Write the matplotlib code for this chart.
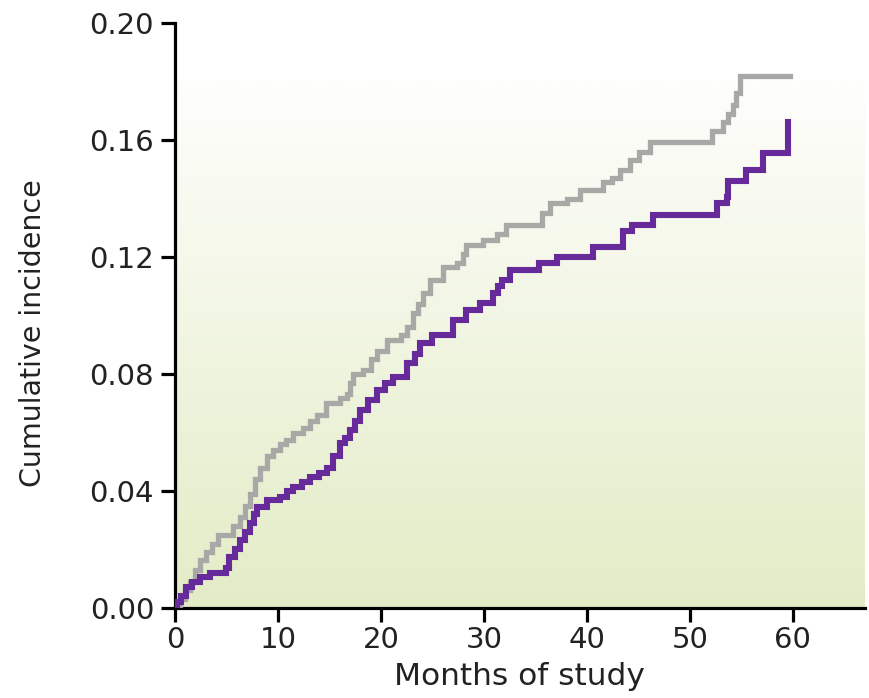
import numpy as np
import matplotlib
matplotlib.use("Agg")
import matplotlib.pyplot as plt
from matplotlib.ticker import FormatStrFormatter

# ---- data ----
gray_t = [0, 0.5, 1.0, 1.5, 2.0, 2.4, 3.0, 3.6, 4.2, 5.6, 6.3, 6.8, 7.3, 7.8, 8.3, 8.9,
          9.5, 10.2, 10.8, 11.5, 12.4, 13.1, 13.8, 14.7, 16.0, 16.7, 17.0, 17.3, 18.3,
          19.0, 19.6, 20.6, 22.0, 22.5, 23.1, 23.6, 24.1, 24.8, 26.0, 27.4, 28.0, 28.3,
          29.9, 31.3, 32.2, 35.7, 36.4, 38.1, 39.3, 41.6, 42.5, 43.2, 44.2, 45.1, 46.1,
          52.2, 53.2, 53.7, 54.2, 54.5, 54.9, 59.7]
gray_v = [0, 0.003, 0.006, 0.009, 0.013, 0.0164, 0.019, 0.022, 0.025, 0.028, 0.031, 0.035,
          0.039, 0.044, 0.048, 0.052, 0.054, 0.056, 0.0574, 0.0598, 0.0615, 0.064, 0.066,
          0.070, 0.0718, 0.073, 0.077, 0.080, 0.0814, 0.085, 0.088, 0.0916, 0.0935, 0.096,
          0.1008, 0.104, 0.1077, 0.112, 0.1166, 0.118, 0.121, 0.124, 0.1258, 0.128, 0.131,
          0.135, 0.1385, 0.140, 0.1429, 0.1456, 0.147, 0.1497, 0.153, 0.156, 0.1593,
          0.163, 0.166, 0.169, 0.172, 0.176, 0.182, 0.182]

purple_t = [0, 0.2, 0.6, 1.1, 1.7, 2.4, 3.4, 5.0, 5.3, 5.8, 6.3, 6.8, 7.3, 7.7, 8.0, 8.9,
            10.2, 10.9, 11.5, 12.3, 13.1, 14.0, 14.8, 15.4, 16.0, 16.5, 17.0, 17.5, 18.0,
            18.8, 19.6, 20.4, 21.2, 22.5, 23.3, 23.8, 25.0, 27.0, 28.3, 29.6, 30.9, 31.4,
            31.8, 32.5, 35.4, 37.1, 40.6, 43.5, 44.4, 46.4, 52.6, 53.6, 53.7, 55.5, 57.1,
            59.5]
purple_v = [0, 0.002, 0.004, 0.007, 0.009, 0.0106, 0.012, 0.0135, 0.0174, 0.020, 0.0232,
            0.026, 0.029, 0.032, 0.0345, 0.037, 0.038, 0.040, 0.0414, 0.043, 0.0448, 0.046,
            0.048, 0.052, 0.0564, 0.058, 0.0608, 0.064, 0.0677, 0.071, 0.0745, 0.077, 0.079,
            0.0837, 0.087, 0.0906, 0.0933, 0.0985, 0.102, 0.1043, 0.1077, 0.110, 0.112,
            0.1156, 0.118, 0.120, 0.1234, 0.129, 0.131, 0.1344, 0.1385, 0.1405, 0.146,
            0.1497, 0.1555, 0.166]

x_ticks = [0, 10, 20, 30, 40, 50, 60]
y_ticks = [0.00, 0.04, 0.08, 0.12, 0.16, 0.20]
x_label = "Months of study"
y_label = "Cumulative incidence"

# ---- figure ----
plt.rcParams['font.family'] = ['DejaVu Sans']
fig = plt.figure(figsize=(8.7, 6.98), dpi=100)
ax = fig.add_axes([0.201, 0.129, 0.793, 0.838])

xmax, ymax = 67.0, 0.20

# gradient background (light green at bottom fading to white)
grad_top = 0.18
n = 256
bottom_c = np.array([227, 236, 198]) / 255.0
top_c = np.array([254, 254, 252]) / 255.0
f = np.linspace(0, 1, n)[:, None]
img = (bottom_c * (1 - f) + top_c * f)[:, None, :]
ax.imshow(img, extent=[0, xmax, 0, grad_top], origin='lower', aspect='auto',
          zorder=0, interpolation='bilinear')
ax.set_xlim(0, xmax)
ax.set_ylim(0, ymax)

ax.step(gray_t, gray_v, where='post', color='#a8a9a6', lw=3.8, zorder=3,
        solid_joinstyle='miter')
ax.step(purple_t, purple_v, where='post', color='#662a9a', lw=4.4, zorder=4,
        solid_joinstyle='miter')

for s in ['top', 'right']:
    ax.spines[s].set_visible(False)
for s in ['left', 'bottom']:
    ax.spines[s].set_linewidth(2.3)
    ax.spines[s].set_color('black')

ax.set_xticks(x_ticks)
ax.set_yticks(y_ticks)
ax.yaxis.set_major_formatter(FormatStrFormatter('%.2f'))
ax.tick_params(axis='both', direction='out', length=10, width=2.3, color='black',
               labelsize=21, labelcolor='#222222')
ax.tick_params(axis='y', pad=5)
ax.tick_params(axis='x', pad=3)

ax.set_xlabel(x_label, fontsize=22.5, color='#222222')
ax.set_ylabel(y_label, fontsize=20.5, color='#222222')
ax.xaxis.set_label_coords(0.5, -0.092)
ax.yaxis.set_label_coords(-0.205, 0.47)
ax.xaxis.label.set_va('top')
ax.yaxis.label.set_va('center')

fig.savefig("out.png", dpi=100)
